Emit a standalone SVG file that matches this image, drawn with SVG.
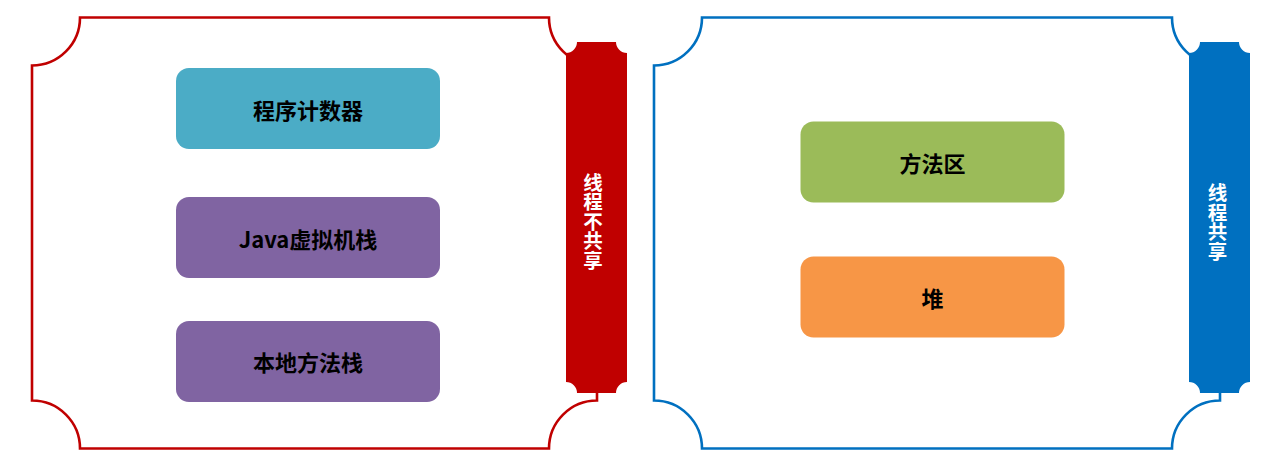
<svg xmlns="http://www.w3.org/2000/svg" width="1262" height="465" viewBox="0 0 1262 465">
<style>
.frame{fill:#fff;stroke-width:2.6}
.box{stroke:none}
.lbl{font-family:"Noto Sans CJK SC","Noto Sans",sans-serif;font-weight:bold;font-size:22px;fill:#000;text-anchor:middle;dominant-baseline:central}
.vt{font-family:"Noto Sans CJK SC","Noto Sans",sans-serif;font-weight:bold;font-size:19.5px;fill:#fff;text-anchor:middle;writing-mode:vertical-rl;text-orientation:upright}
</style>
<rect width="1262" height="465" fill="#fff"/>
<g id="left-frame">
<path class="frame" stroke="#C00000" d="M80,17.5 H549 A48,48 0 0 0 597,65.5 V400.5 A48,48 0 0 0 549,448.5 H80 A48,48 0 0 0 32,400.5 V65.5 A48,48 0 0 0 80,17.5 Z"/>
</g>
<g id="left-bar">
<path fill="#C00000" d="M577,42 H616 A11,11 0 0 0 627,53 V382 A11,11 0 0 0 616,393 H577 A11,11 0 0 0 566,382 V53 A11,11 0 0 0 577,42 Z"/>
<text class="vt" x="593" y="221.5">线程不共享</text>
</g>
<g id="right-frame">
<path class="frame" stroke="#0070C0" d="M702,17.5 H1172 A48,48 0 0 0 1220,65.5 V400.5 A48,48 0 0 0 1172,448.5 H702 A48,48 0 0 0 654,400.5 V65.5 A48,48 0 0 0 702,17.5 Z"/>
</g>
<g id="right-bar">
<path fill="#0070C0" d="M1200,42 H1239 A11,11 0 0 0 1250,53 V382 A11,11 0 0 0 1239,393 H1200 A11,11 0 0 0 1189,382 V53 A11,11 0 0 0 1200,42 Z"/>
<text class="vt" x="1217.5" y="222">线程共享</text>
</g>
<g id="pc">
<rect class="box" x="176" y="68" width="264" height="81" rx="13" fill="#4BACC6"/>
<text class="lbl" x="308" y="109">程序计数器</text>
</g>
<g id="jvm-stack">
<rect class="box" x="176" y="197" width="264" height="81" rx="13" fill="#8064A2"/>
<text class="lbl" x="308" y="238">Java虚拟机栈</text>
</g>
<g id="native-stack">
<rect class="box" x="176" y="321" width="264" height="81" rx="13" fill="#8064A2"/>
<text class="lbl" x="308" y="361">本地方法栈</text>
</g>
<g id="method-area">
<rect class="box" x="800.5" y="121.5" width="264" height="81" rx="13" fill="#9BBB59"/>
<text class="lbl" x="932.5" y="162">方法区</text>
</g>
<g id="heap">
<rect class="box" x="800.5" y="256.5" width="264" height="81" rx="13" fill="#F79646"/>
<text class="lbl" x="932.5" y="297">堆</text>
</g>
<g id="connectors"></g>
</svg>
